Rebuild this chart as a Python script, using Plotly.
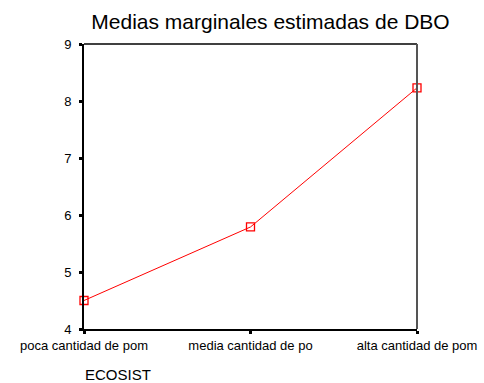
import plotly.graph_objects as go

categories = ["poca cantidad de pom", "media cantidad de po", "alta cantidad de pom"]
means = [4.50, 5.79, 8.23]
y_ticks = [4, 5, 6, 7, 8, 9]

W, H = 484, 383
L, R, T, B = 84, 67, 44, 54

fig = go.Figure()
fig.add_trace(go.Scatter(
    x=list(range(len(categories))), y=means, mode="lines+markers",
    line=dict(color="#ff0000", width=1),
    marker=dict(symbol="square-open", size=8, color="#ff0000", line=dict(width=1.3)),
    cliponaxis=False, showlegend=False,
))

fig.update_layout(
    width=W, height=H,
    margin=dict(l=L, r=R, t=T, b=B, pad=0, autoexpand=False),
    paper_bgcolor="white", plot_bgcolor="white",
    font=dict(family="Liberation Sans, Arial, sans-serif", color="#000000"),
    title=dict(text="Medias marginales estimadas de DBO", x=270.5 / W, xref="container",
               xanchor="center", y=1 - 22 / H, yref="container", yanchor="middle",
               font=dict(size=21)),
    xaxis=dict(
        range=[0, 2], tickmode="array", tickvals=list(range(len(categories))),
        ticktext=categories, showgrid=False, zeroline=False, automargin=False,
        showline=True, linecolor="#000000", linewidth=2,
        ticks="outside", ticklen=3, tickwidth=3, tickcolor="#000000",
        tickfont=dict(size=13), fixedrange=True,
    ),
    yaxis=dict(
        range=[4, 9], tickvals=y_ticks, showgrid=False, zeroline=False, automargin=False,
        showline=True, linecolor="#000000", linewidth=2,
        ticks="outside", ticklen=3, tickwidth=3, tickcolor="#000000",
        ticklabelstandoff=5,
        tickfont=dict(size=13), fixedrange=True,
    ),
)

# frame: top black thin, right grey
fig.add_shape(type="line", xref="paper", yref="paper", x0=0, x1=1, y0=1, y1=1,
              line=dict(color="#000000", width=1.5))
fig.add_shape(type="line", xref="paper", yref="paper", x0=1, x1=1, y0=0, y1=1,
              line=dict(color="#555555", width=2))

fig.add_annotation(text="ECOSIST", xref="paper", yref="paper",
                   x=(117.5 - L) / (W - L - R), y=-(374 - (H - B)) / (H - T - B),
                   xanchor="center", yanchor="middle", showarrow=False,
                   font=dict(size=15))

fig.write_html("out.html")
